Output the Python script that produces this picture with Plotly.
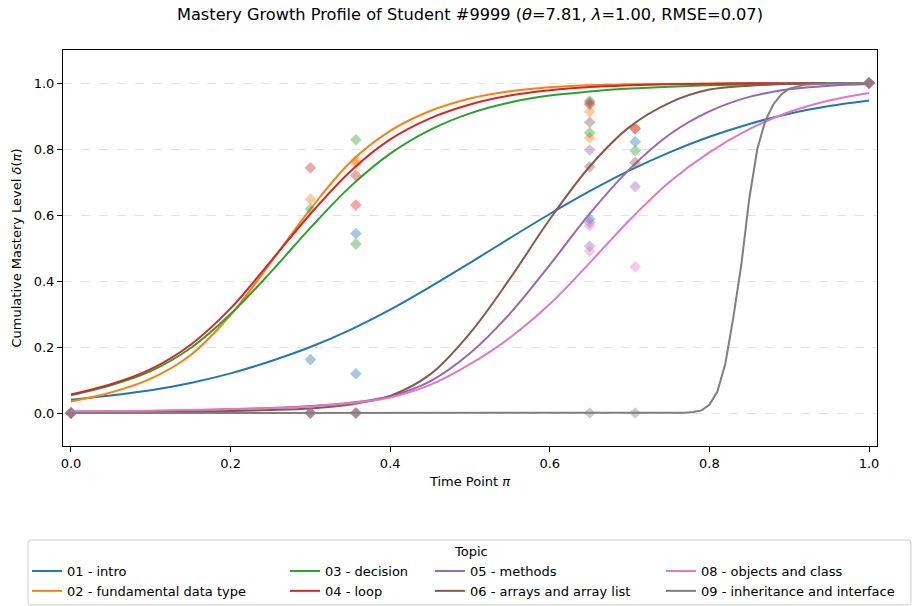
import plotly.graph_objects as go

# ---------------- data ----------------
TOPICS = ["01 - intro", "02 - fundamental data type", "03 - decision", "04 - loop",
          "05 - methods", "06 - arrays and array list", "08 - objects and class",
          "09 - inheritance and interface"]
COLORS = ["#1f77b4", "#ff7f0e", "#2ca02c", "#d62728", "#9467bd", "#8c564b", "#e377c2", "#7f7f7f"]

CURVE_X = [0.00, 0.05, 0.10, 0.15, 0.20, 0.25, 0.30, 0.35, 0.40, 0.45, 0.50,
           0.55, 0.60, 0.65, 0.70, 0.75, 0.80, 0.85, 0.90, 0.95, 1.00]
CURVE_01 = [0.040, 0.053, 0.069, 0.091, 0.120, 0.157, 0.200, 0.252, 0.313, 0.382, 0.455,
            0.530, 0.603, 0.672, 0.735, 0.790, 0.837, 0.876, 0.907, 0.930, 0.947]
CURVE_02 = [0.035, 0.062, 0.104, 0.176, 0.297, 0.455, 0.618, 0.760, 0.855, 0.915, 0.953,
            0.975, 0.987, 0.993, 0.996, 0.997, 0.998, 0.999, 0.999, 1.000, 1.000]
CURVE_03 = [0.054, 0.084, 0.127, 0.197, 0.300, 0.426, 0.561, 0.686, 0.786, 0.858, 0.908,
            0.941, 0.962, 0.974, 0.983, 0.989, 0.993, 0.996, 0.998, 0.999, 1.000]
CURVE_04 = [0.056, 0.087, 0.133, 0.207, 0.317, 0.459, 0.603, 0.732, 0.829, 0.893, 0.935,
            0.962, 0.978, 0.988, 0.993, 0.996, 0.998, 0.999, 0.999, 1.000, 1.000]
CURVE_05 = [0.004, 0.005, 0.006, 0.008, 0.011, 0.015, 0.021, 0.031, 0.051, 0.096, 0.181,
            0.301, 0.449, 0.604, 0.739, 0.844, 0.914, 0.958, 0.981, 0.992, 0.997]
CURVE_06 = [0.001, 0.002, 0.003, 0.004, 0.006, 0.009, 0.014, 0.026, 0.052, 0.117, 0.242,
            0.407, 0.587, 0.747, 0.867, 0.940, 0.980, 0.992, 0.997, 0.999, 1.000]
CURVE_08 = [0.005, 0.006, 0.007, 0.009, 0.012, 0.015, 0.020, 0.030, 0.047, 0.085, 0.148,
            0.228, 0.330, 0.455, 0.585, 0.700, 0.790, 0.860, 0.912, 0.947, 0.970]
GRAY_X = [0.00, 0.10, 0.20, 0.30, 0.40, 0.50, 0.60, 0.70, 0.75, 0.77, 0.78, 0.79, 0.80,
          0.81, 0.82, 0.83, 0.84, 0.85, 0.86, 0.87, 0.88, 0.89, 0.90, 0.92, 0.95, 1.00]
CURVE_09 = [0.0, 0.0, 0.0, 0.0, 0.0, 0.0, 0.0, 0.0, 0.0005, 0.001, 0.003, 0.008, 0.025,
            0.065, 0.15, 0.29, 0.45, 0.65, 0.80, 0.885, 0.935, 0.965, 0.983, 0.995, 0.999, 1.0]

OBS_X_01 = [0.0, 0.30, 0.357, 0.357, 0.65, 0.707, 1.0]
OBS_Y_01 = [0.0, 0.162, 0.544, 0.119, 0.588, 0.822, 1.0]
OBS_X_02 = [0.0, 0.30, 0.357, 0.357, 0.65, 0.65, 0.707, 1.0]
OBS_Y_02 = [0.0, 0.648, 0.755, 0.765, 0.913, 0.834, 0.862, 1.0]
OBS_X_03 = [0.0, 0.30, 0.357, 0.357, 0.65, 0.65, 0.707, 1.0]
OBS_Y_03 = [0.0, 0.618, 0.828, 0.512, 0.946, 0.849, 0.795, 1.0]
OBS_X_04 = [0.0, 0.30, 0.357, 0.357, 0.65, 0.707, 1.0]
OBS_Y_04 = [0.0, 0.743, 0.720, 0.630, 0.935, 0.862, 1.0]
OBS_X_05 = [0.0, 0.30, 0.357, 0.65, 0.65, 0.65, 0.707, 1.0]
OBS_Y_05 = [0.0, 0.0, 0.0, 0.797, 0.577, 0.505, 0.686, 1.0]
OBS_X_06 = [0.0, 0.30, 0.357, 0.65, 0.65, 0.65, 0.707, 1.0]
OBS_Y_06 = [0.0, 0.0, 0.0, 0.940, 0.881, 0.746, 0.759, 1.0]
OBS_X_08 = [0.0, 0.30, 0.357, 0.65, 0.65, 0.707, 1.0]
OBS_Y_08 = [0.0, 0.0, 0.0, 0.567, 0.490, 0.443, 1.0]
OBS_X_09 = [0.0, 0.30, 0.357, 0.65, 0.707, 1.0]
OBS_Y_09 = [0.0, 0.0, 0.0, 0.0, 0.0, 1.0]

CURVES = [(CURVE_X, CURVE_01), (CURVE_X, CURVE_02), (CURVE_X, CURVE_03), (CURVE_X, CURVE_04),
          (CURVE_X, CURVE_05), (CURVE_X, CURVE_06), (CURVE_X, CURVE_08), (GRAY_X, CURVE_09)]
OBS = [(OBS_X_01, OBS_Y_01), (OBS_X_02, OBS_Y_02), (OBS_X_03, OBS_Y_03), (OBS_X_04, OBS_Y_04),
       (OBS_X_05, OBS_Y_05), (OBS_X_06, OBS_Y_06), (OBS_X_08, OBS_Y_08), (OBS_X_09, OBS_Y_09)]
LEGEND_IDS = ["legend", "legend", "legend2", "legend2", "legend3", "legend3", "legend4", "legend4"]

Y_TICKS = [0.0, 0.2, 0.4, 0.6, 0.8, 1.0]
X_TICKS = [0.0, 0.2, 0.4, 0.6, 0.8, 1.0]

FONT = "DejaVu Sans"
W, H = 913, 606
ML, MR, MT, MB = 63, 36, 50, 160
PW, PH = W - ML - MR, H - MT - MB


def px_to_paper_x(px):
    return (px - ML) / PW


def px_to_paper_y(py):
    return (H - MB - py) / PH


fig = go.Figure()
for i, name in enumerate(TOPICS):
    cx, cy = CURVES[i]
    ox, oy = OBS[i]
    is_gray = name.startswith("09")
    fig.add_trace(go.Scatter(
        x=cx, y=cy, mode="lines", name=name,
        line=dict(color=COLORS[i], width=2, shape="linear" if is_gray else "spline", smoothing=1.0),
        legend=LEGEND_IDS[i], showlegend=True, hoverinfo="skip"))
    fig.add_trace(go.Scatter(
        x=ox, y=oy, mode="markers", name=name, showlegend=False,
        marker=dict(symbol="diamond", size=9, color=COLORS[i], opacity=0.4, line=dict(width=0))))

axis_common = dict(showline=True, linecolor="black", linewidth=1, mirror=True,
                   ticks="outside", ticklen=5, tickwidth=1, tickcolor="black",
                   tickfont=dict(family=FONT, size=13, color="black"), zeroline=False)

fig.update_layout(
    width=W, height=H,
    margin=dict(l=ML, r=MR, t=MT, b=MB, autoexpand=False),
    paper_bgcolor="white", plot_bgcolor="white",
    font=dict(family=FONT, size=13, color="black"),
    title=dict(text="Mastery Growth Profile of Student #9999 (<i>θ</i>=7.81, <i>λ</i>=1.00, RMSE=0.07)",
               x=0.5, xref="paper", xanchor="center", y=1 - 14 / H, yanchor="middle",
               font=dict(family=FONT, size=16.2, color="black")),
    xaxis=dict(range=[-0.01, 1.01], tickvals=X_TICKS, ticktext=[f"{v:.1f}" for v in X_TICKS],
               showgrid=False,
               title=dict(text="Time Point <i>π</i>", standoff=7, font=dict(family=FONT, size=13)),
               **axis_common),
    yaxis=dict(range=[-0.1, 1.1], tickvals=Y_TICKS, ticktext=[f"{v:.1f}" for v in Y_TICKS],
               showgrid=True, gridcolor="#e3e3e3", griddash="dash", gridwidth=1,
               title=dict(text="Cumulative Mastery Level <i>δ</i>(<i>π</i>)", standoff=9,
                          font=dict(family=FONT, size=13)),
               **axis_common),
)

legend_px = [27, 285, 430, 661]
legend_top = 556
for j, key in enumerate(["legend", "legend2", "legend3", "legend4"]):
    fig.update_layout({key: dict(
        x=px_to_paper_x(legend_px[j]), xanchor="left",
        y=px_to_paper_y(legend_top), yanchor="top",
        orientation="v", bgcolor="rgba(0,0,0,0)", borderwidth=0,
        itemwidth=30, tracegroupgap=0, traceorder="normal",
        font=dict(family=FONT, size=13, color="black"))})

# legend frame (rounded) and title
x0, x1 = px_to_paper_x(28), px_to_paper_x(911)
y0, y1 = px_to_paper_y(605), px_to_paper_y(540)
rx, ry = 3 / PW, 3 / PH
path = (f"M{x0 + rx},{y1} L{x1 - rx},{y1} Q{x1},{y1} {x1},{y1 - ry} "
        f"L{x1},{y0 + ry} Q{x1},{y0} {x1 - rx},{y0} L{x0 + rx},{y0} Q{x0},{y0} {x0},{y0 + ry} "
        f"L{x0},{y1 - ry} Q{x0},{y1} {x0 + rx},{y1} Z")
fig.add_shape(type="path", path=path, xref="paper", yref="paper",
              line=dict(color="#cccccc", width=1), fillcolor="rgba(255,255,255,0.8)", layer="below")
fig.add_annotation(text="Topic", xref="paper", yref="paper",
                   x=px_to_paper_x(471), y=px_to_paper_y(551), xanchor="center", yanchor="middle",
                   showarrow=False, font=dict(family=FONT, size=13, color="black"))

fig.write_html("out.html")
